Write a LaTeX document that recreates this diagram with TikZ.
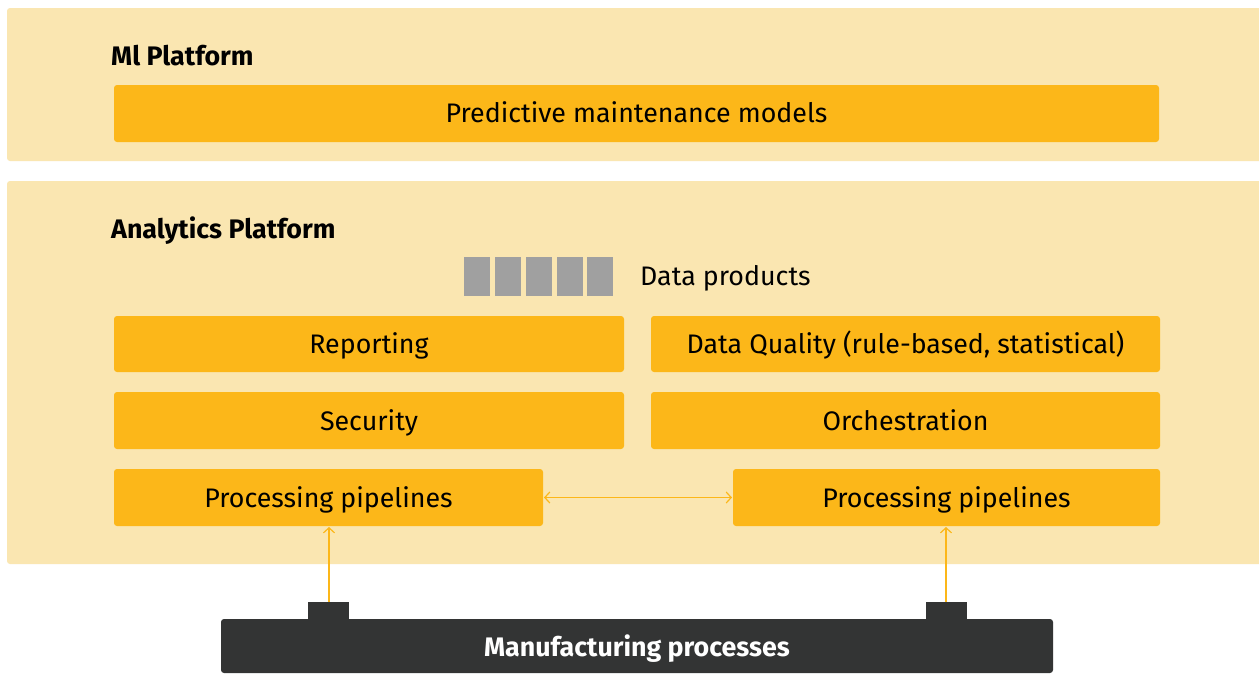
\documentclass[tikz,border=0pt]{standalone}
\usepackage{fontspec}
\setmainfont{Fira Sans}
\usetikzlibrary{arrows.meta}
\definecolor{panel}{HTML}{FAE6B1}
\definecolor{orng}{HTML}{FCB719}
\definecolor{dark}{HTML}{333434}
\definecolor{prod}{HTML}{A0A0A0}
\begin{document}
\begin{tikzpicture}[x=1pt,y=-1pt,
  panelbox/.style={fill=panel,rounded corners=3pt},
  comp/.style={fill=orng,rounded corners=3pt},
  lbl/.style={anchor=base,inner sep=0pt,font=\fontsize{26.8}{30}\selectfont},
  ttl/.style={anchor=base west,inner sep=0pt,font=\bfseries\fontsize{26.8}{30}\selectfont},
  link/.style={draw=orng,line width=1.2pt,{Straight Barb[length=5pt,width=11pt]}-{Straight Barb[length=5pt,width=11pt]}},
  uplink/.style={draw=orng,line width=1.2pt,-{Straight Barb[length=5pt,width=11pt]}}]
\useasboundingbox (0,0) rectangle (1259,673);
\fill[white] (0,0) rectangle (1259,673);
% panels
\fill[panelbox] (7,8) rectangle (1262,161);
\fill[panelbox] (7,181) rectangle (1262,564);
\node[ttl] (mltitle) at (111,65) {Ml Platform};
\node[ttl] (antitle) at (111,238.5) {Analytics Platform};
% ML component
\path[comp] (114,85) rectangle (1159,142);
\node[lbl] (pred) at (636.5,122.5) {Predictive maintenance models};
% data products
\foreach \x [count=\i] in {464,495,526,557,587}
  \fill[prod] (\x,257) rectangle ++(26,39);
\node[lbl,anchor=base west] (dp) at (640,285.5) {Data products};
% components
\path[comp] (114,316) rectangle (624,372);
\node[lbl] (rep) at (369,353.3) {Reporting};
\path[comp] (651,316) rectangle (1160,372);
\node[lbl] (dq) at (905.5,353.3) {Data Quality (rule-based, statistical)};
\path[comp] (114,392) rectangle (624,449);
\node[lbl] (sec) at (369,430) {Security};
\path[comp] (651,392) rectangle (1160,449);
\node[lbl] (orc) at (905.5,430) {Orchestration};
\path[comp] (114,469) rectangle (543,526);
\node[lbl] (pp1t) at (328.5,507) {Processing pipelines};
\path[comp] (733,469) rectangle (1160,526);
\node[lbl] (pp2t) at (946.5,507) {Processing pipelines};
\coordinate (pp1r) at (544,497.5);
\coordinate (pp2l) at (732,497.5);
\coordinate (pp1b) at (329,527);
\coordinate (pp2b) at (946,527);
% manufacturing
\fill[dark,rounded corners=3pt] (221,673) -- (221,619) -- (1053,619) -- (1053,673) -- cycle;
\fill[dark] (308,602) rectangle (349,620);
\fill[dark] (926,602) rectangle (967,620);
\node[lbl,text=white,font=\bfseries\fontsize{26.8}{30}\selectfont] (mfg) at (637,656) {Manufacturing processes};
\coordinate (tab1) at (329,602);
\coordinate (tab2) at (946,602);
% connectors
\draw[link] (pp1r) -- (pp2l);
\draw[uplink] (tab1) -- (pp1b);
\draw[uplink] (tab2) -- (pp2b);
\end{tikzpicture}
\end{document}
